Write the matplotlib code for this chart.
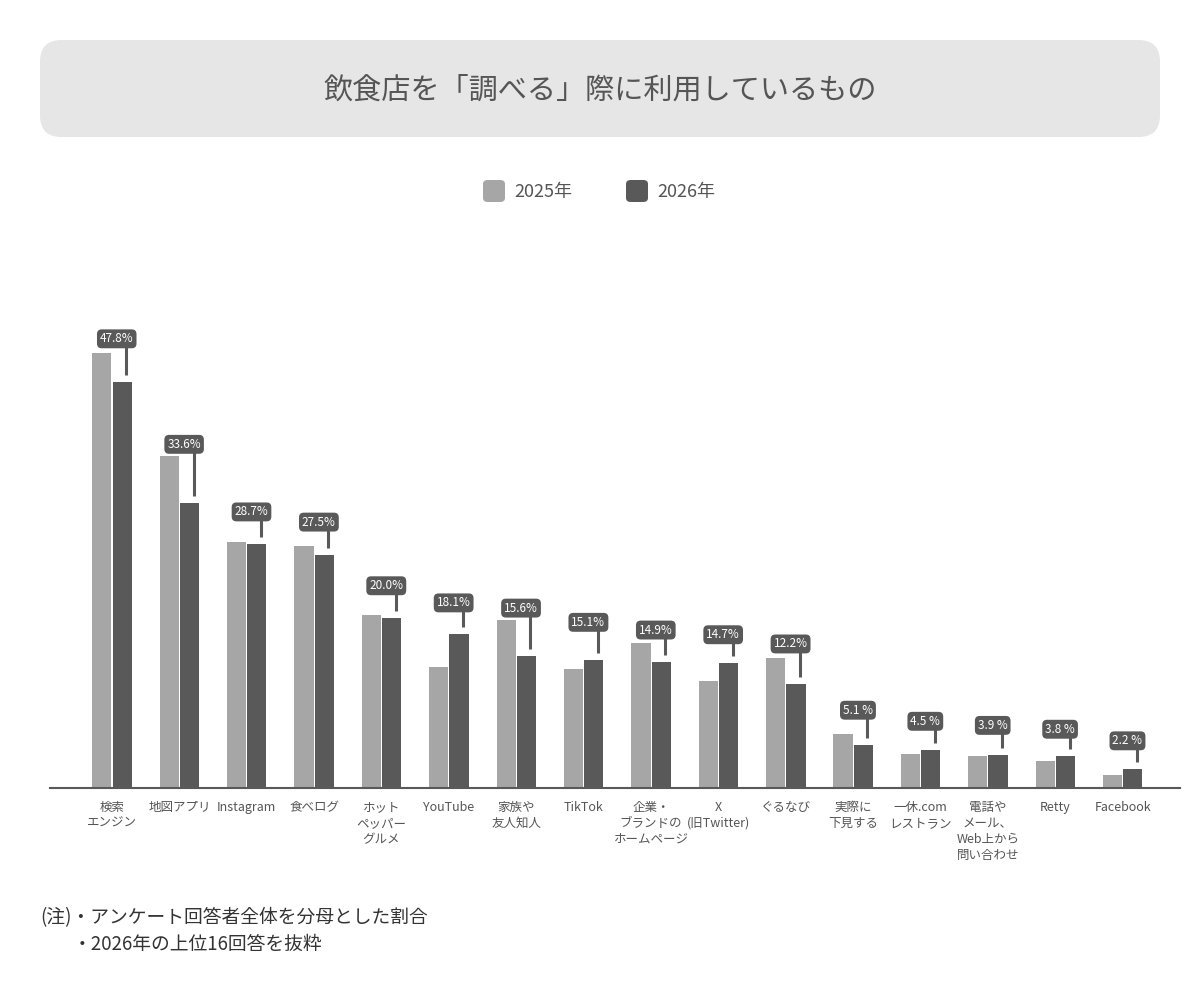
import matplotlib
matplotlib.use('Agg')
import matplotlib.pyplot as plt
from matplotlib.patches import FancyBboxPatch
import numpy as np

plt.rcParams['font.family'] = ['Noto Sans CJK JP', 'DejaVu Sans']

# data
categories = ['検索\nエンジン', '地図アプリ', 'Instagram', '食べログ', 'ホット\nペッパー\nグルメ',
              'YouTube', '家族や\n友人知人', 'TikTok', '企業・\nブランドの\nホームページ',
              'X\n(旧Twitter)', 'ぐるなび', '実際に\n下見する', '一休.com\nレストラン',
              '電話や\nメール、\nWeb上から\n問い合わせ', 'Retty', 'Facebook']
vals_2025 = [51.3, 39.1, 29.0, 28.5, 20.4, 14.3, 19.8, 14.0, 17.1, 12.6, 15.3, 6.4, 4.0, 3.8, 3.2, 1.5]
vals_2026 = [47.8, 33.6, 28.7, 27.5, 20.0, 18.1, 15.6, 15.1, 14.9, 14.7, 12.2, 5.1, 4.5, 3.9, 3.8, 2.2]
labels_2026 = ['47.8%', '33.6%', '28.7%', '27.5%', '20.0%', '18.1%', '15.6%', '15.1%', '14.9%',
               '14.7%', '12.2%', '5.1 %', '4.5 %', '3.9 %', '3.8 %', '2.2 %']
series = ['2025年', '2026年']

# how far (px) each callout box sits above its bar
lift_px = [46, 61, 35, 35, 35, 34, 50, 40, 34, 31, 43, 37, 31, 32, 29, 31]

c25 = '#a6a6a6'
c26 = '#595959'
txt = '#555555'

fig = plt.figure(figsize=(12, 10), dpi=100)

# title box
fig.patches.append(FancyBboxPatch((40 / 1200, 1 - 137 / 1000), 1120 / 1200, 97 / 1000,
                                  boxstyle='round,pad=0,rounding_size=0.018',
                                  transform=fig.transFigure, fc='#e6e6e6', ec='none',
                                  mutation_aspect=1.2))
fig.text(0.5, 1 - 91 / 1000, '飲食店を「調べる」際に利用しているもの', ha='center', va='center',
         fontsize=21, color=txt)

# legend
for i, (name, col) in enumerate(zip(series, [c25, c26])):
    x0 = [483, 626][i]
    fig.patches.append(FancyBboxPatch((x0 / 1200, 1 - 202 / 1000), 22 / 1200, 22 / 1000,
                                      boxstyle='round,pad=0,rounding_size=0.004',
                                      transform=fig.transFigure, fc=col, ec='none'))
    fig.text((x0 + 31) / 1200, 1 - 192 / 1000, name, ha='left', va='center',
             fontsize=13, color=txt)

ax = fig.add_axes([50 / 1200, 212 / 1000, 1130 / 1200, 488 / 1000])
x = np.arange(len(categories))
w = 0.285
ax.bar(x - w / 2 - 0.008, vals_2025, w, color=c25)
ax.bar(x + w / 2 + 0.008, vals_2026, w, color=c26)

ax.set_xlim(-0.92, 15.85)
ymax = 57.5
ax.set_ylim(0, ymax)
pxper = 488 / ymax

for i, (v, lab) in enumerate(zip(vals_2026, labels_2026)):
    bx = x[i] + w / 2 + 0.008
    box_bottom = v + (lift_px[i] - 9) / pxper
    ax.plot([bx + 0.06, bx + 0.06], [v + 7 / pxper, box_bottom], color=c26, lw=2.2,
            solid_capstyle='butt')
    ax.text(bx - 0.08, box_bottom, lab, ha='center', va='bottom', fontsize=8.5,
            color='white',
            bbox=dict(boxstyle='round,pad=0.25,rounding_size=0.4', fc=c26, ec='none'))

ax.set_xticks(x)
ax.set_xticklabels(categories, fontsize=9, color=txt, linespacing=1.28, va='top')
ax.tick_params(axis='x', length=0, pad=9.5)
ax.set_yticks([])
for s in ['top', 'left', 'right']:
    ax.spines[s].set_visible(False)
ax.spines['bottom'].set_color(c26)
ax.spines['bottom'].set_linewidth(1.5)

fig.text(40 / 1200, 1 - 918 / 1000, '(注)・アンケート回答者全体を分母とした割合', ha='left',
         va='center', fontsize=13.5, color='#333333')
fig.text(73 / 1200, 1 - 944 / 1000, '・2026年の上位16回答を抜粋', ha='left', va='center',
         fontsize=13.5, color='#333333')

fig.savefig('out.png', dpi=100)
